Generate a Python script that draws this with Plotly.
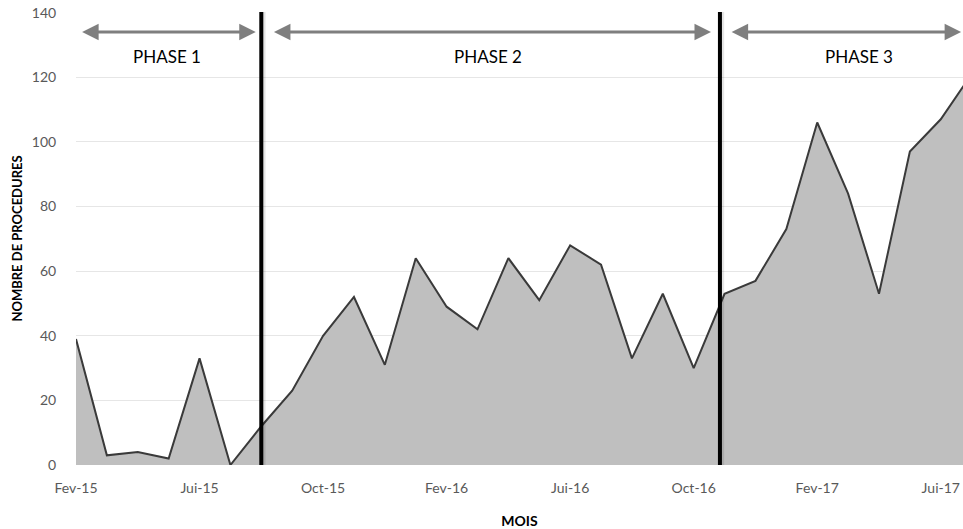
import plotly.graph_objects as go

months = ["Fev-15", "Mar-15", "Avr-15", "Mai-15", "Jui-15", "Jul-15", "Aou-15", "Sep-15",
          "Oct-15", "Nov-15", "Dec-15", "Jan-16", "Fev-16", "Mar-16", "Avr-16", "Mai-16",
          "Jui-16", "Jul-16", "Aou-16", "Sep-16", "Oct-16", "Nov-16", "Dec-16", "Jan-17",
          "Fev-17", "Mar-17", "Avr-17", "Mai-17", "Jui-17", "Jul-17"]
procedures = [39, 3, 4, 2, 33, 0, 12, 23, 40, 52, 31, 64, 49, 42, 64, 51, 68, 62, 33, 53,
              30, 53, 57, 73, 106, 84, 53, 97, 107, 121]
tick_labels = ["Fev-15", "Jui-15", "Oct-15", "Fev-16", "Jui-16", "Oct-16", "Fev-17", "Jui-17"]
y_ticks = [0, 20, 40, 60, 80, 100, 120, 140]
phase_names = ["PHASE 1", "PHASE 2", "PHASE 3"]
phase_bounds = [6, 20.85]

xi = list(range(len(months)))
fig = go.Figure()
fig.add_trace(go.Scatter(
    x=xi, y=procedures, mode="lines", fill="tozeroy",
    fillcolor="#bfbfbf", line=dict(color="#3a3a3a", width=2),
    hoverinfo="x+y", showlegend=False,
))

xmax = 28.72
# vertical phase separators (with faint shadow)
for b in phase_bounds:
    fig.add_shape(type="line", xref="x", yref="y", x0=b + 0.04, x1=b + 0.04, y0=0, y1=140.6,
                  line=dict(color="rgba(0,0,0,0.10)", width=6), layer="above")
    fig.add_shape(type="line", xref="x", yref="y", x0=b, x1=b, y0=0, y1=140.6,
                  line=dict(color="black", width=4), layer="above")

# phase arrows and labels
segments = [(0.15, 5.82), (6.36, 20.56), (21.18, 28.66)]
label_x = [2.96, 13.35, 25.36]
for (a, b), name, lx in zip(segments, phase_names, label_x):
    fig.add_annotation(x=b, y=134, ax=a, ay=134, xref="x", yref="y", axref="x", ayref="y",
                       text="", showarrow=True, arrowhead=2, arrowside="end+start",
                       arrowsize=1.1, arrowwidth=3, arrowcolor="#7f7f7f")
    fig.add_annotation(x=lx, y=126.5, xref="x", yref="y", text=name,
                       showarrow=False, font=dict(family="Lato", size=17, color="black"))

tick_idx = [months.index(t) for t in tick_labels]
fig.update_layout(
    width=963, height=529,
    margin=dict(l=76, r=0, t=12, b=64),
    plot_bgcolor="white", paper_bgcolor="white",
    font=dict(family="Lato", color="#595959", size=14),
    xaxis=dict(range=[0, xmax], tickvals=tick_idx, ticktext=tick_labels, automargin=False,
               showgrid=False, zeroline=False, showline=False, ticklabeloverflow="allow",
               ticks="outside", ticklen=10, tickcolor="rgba(0,0,0,0)",
               tickfont=dict(size=14, color="#595959"),
               title=dict(text="<b>MOIS</b>", font=dict(size=14, color="black"), standoff=23)),
    yaxis=dict(range=[0, 140.2], tickvals=y_ticks, showgrid=True, gridcolor="#e6e6e6", gridwidth=1,
               automargin=False, zeroline=False, showline=False, ticklabeloverflow="allow",
               ticks="outside", ticklen=16, tickcolor="rgba(0,0,0,0)",
               tickfont=dict(size=14, color="#595959"),
               title=dict(text="<b>NOMBRE DE PROCEDURES</b>", font=dict(size=13, color="black"),
                          standoff=6)),
)

fig.write_html("out.html", config={"displayModeBar": False},
               post_script="document.body.style.margin='0';")
